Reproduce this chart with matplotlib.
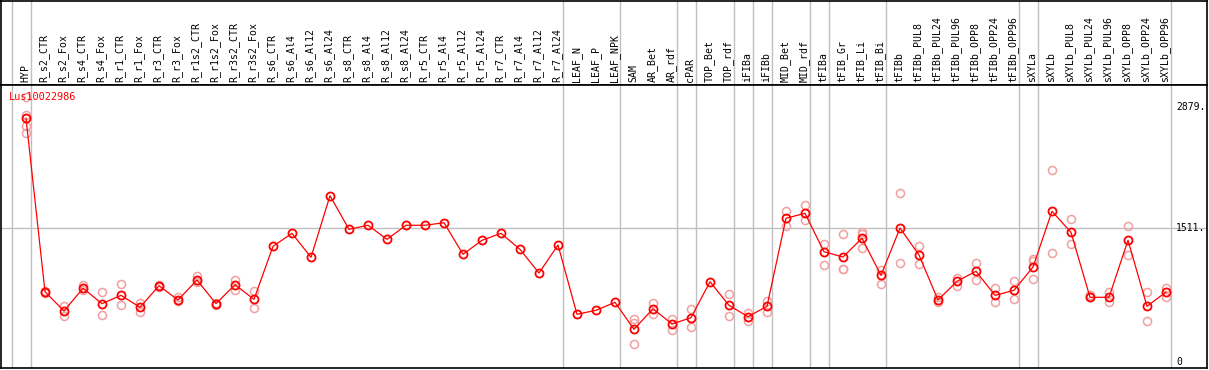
import numpy as np
import matplotlib.pyplot as plt

samples = ["HYP", "R_s2_CTR", "R_s2_Fox", "R_s4_CTR", "R_s4_Fox", "R_r1_CTR", "R_r1_Fox",
           "R_r3_CTR", "R_r3_Fox", "R_r1s2_CTR", "R_r1s2_Fox", "R_r3s2_CTR", "R_r3s2_Fox",
           "R_s6_CTR", "R_s6_Al4", "R_s6_Al12", "R_s6_Al24", "R_s8_CTR", "R_s8_Al4",
           "R_s8_Al12", "R_s8_Al24", "R_r5_CTR", "R_r5_Al4", "R_r5_Al12", "R_r5_Al24",
           "R_r7_CTR", "R_r7_Al4", "R_r7_Al12", "R_r7_Al24", "LEAF_N", "LEAF_P", "LEAF_NPK",
           "SAM", "AR_Bet", "AR_rdf", "cPAR", "TOP_Bet", "TOP_rdf", "iFIBa", "iFIBb",
           "MID_Bet", "MID_rdf", "tFIBa", "tFIB_Gr", "tFIB_Li", "tFIB_Bi", "tFIBb",
           "tFIBb_PUL8", "tFIBb_PUL24", "tFIBb_PUL96", "tFIBb_OPP8", "tFIBb_OPP24",
           "tFIBb_OPP96", "sXYLa", "sXYLb", "sXYLb_PUL8", "sXYLb_PUL24", "sXYLb_PUL96",
           "sXYLb_OPP8", "sXYLb_OPP24", "sXYLb_OPP96"]

means = [2751, 791, 573, 830, 656, 750, 615, 859, 697, 923, 656, 870, 705,
         1304, 1451, 1180, 1876, 1496, 1542, 1383, 1542, 1542, 1571, 1214, 1372,
         1451, 1270, 1002, 1319, 536, 581, 671,
         366, 599, 426, 497, 904, 637, 509, 626, 1621, 1677,
         1243, 1183, 1395, 976, 1511, 1206, 697, 909, 1022, 750, 807,
         1070, 1700, 1462, 728, 728, 1372, 626, 788]

replicates = [
    [2988, 2788, 2664, 2581], [800, 782], [630, 516], [867, 809], [784, 524],
    [875, 637], [667, 565], [870, 848], [728, 686], [972, 897], [666, 646],
    [927, 814], [799, 610],
    [], [], [], [], [], [], [], [], [], [], [], [], [], [], [], [], [], [], [],
    [479, 441, 197], [660, 539], [486, 355], [599, 396], [], [762, 513],
    [554, 463], [689, 565], [1700, 1537], [1768, 1598],
    [1330, 1090], [1440, 1051, 1044], [1469, 1443, 1288], [1033, 875],
    [1903, 1116], [1304, 1104], [728, 671], [949, 856], [1116, 927], [830, 671],
    [909, 705], [1161, 1135, 931], [2163, 1229], [1609, 1327], [757, 728],
    [791, 671], [1530, 1203], [784, 460], [836, 731]]

# last sample index of each group
group_ends = [-1, 0, 28, 31, 34, 35, 37, 38, 39, 41, 42, 45, 52, 53, 60]
ref_value = 1511
tick_values = [2879, 1511, 0]
tick_texts = ["2879.", "1511.", "0"]
gene = "Lus10022986"

W, H = 1209, 370
font = "DejaVu Sans Mono"
gray = "#c0c0c0"

def main():
    fig = plt.figure(figsize=(W / 100, H / 100), dpi=100)
    x0, step = 26, 19
    xlim = ((0.5 - x0) / step, (1207 - x0) / step)

    ax_h = fig.add_axes([0.5 / W, (H - 85) / H, 1206.5 / W, 84.5 / H])
    ax = fig.add_axes([0.5 / W, 2 / H, 1206.5 / W, 283 / H])

    for a in (ax_h, ax):
        a.set_xlim(*xlim)
        a.set_xticks([])
        a.set_yticks([])
        for s in a.spines.values():
            s.set_color("black")
            s.set_linewidth(1.2)
        for g in group_ends:
            a.axvline(g + 0.25, color=gray, lw=1, zorder=0)

    ax_h.set_ylim(0, 1)
    for i, name in enumerate(samples):
        ax_h.text(i - 0.05, 0.03, name, rotation=90, ha="center", va="bottom",
                  fontsize=7.1, family=font)

    scale = 0.08848
    ax.set_ylim(-(368 - 361.7) / scale, (361.7 - 85) / scale)
    ax.axhline(ref_value, color=gray, lw=1, zorder=0)

    xs = np.arange(len(samples))
    for i, reps in enumerate(replicates):
        if reps:
            ax.plot([i] * len(reps), reps, "o", ms=5.8, mfc="none", mec="#f0a0a0",
                    mew=1.1, zorder=2)
    ax.plot(xs, means, "-", color="red", lw=0.9, zorder=3)
    ax.plot(xs, means, "o", ms=5.8, mfc="none", mec="red", mew=1.3, zorder=4)

    tx = (1176 - x0) / step
    for v, t in zip(tick_values, tick_texts):
        ax.text(tx, v, t, ha="left", va="center", fontsize=7, family=font)

    ax.text((9 - x0) / step, (361.7 - 96.7) / scale, gene, color="red",
            ha="left", va="center", fontsize=7.4, family=font, zorder=5)

    fig.savefig("out.png", dpi=100)

if __name__ == "__main__":
    main()
